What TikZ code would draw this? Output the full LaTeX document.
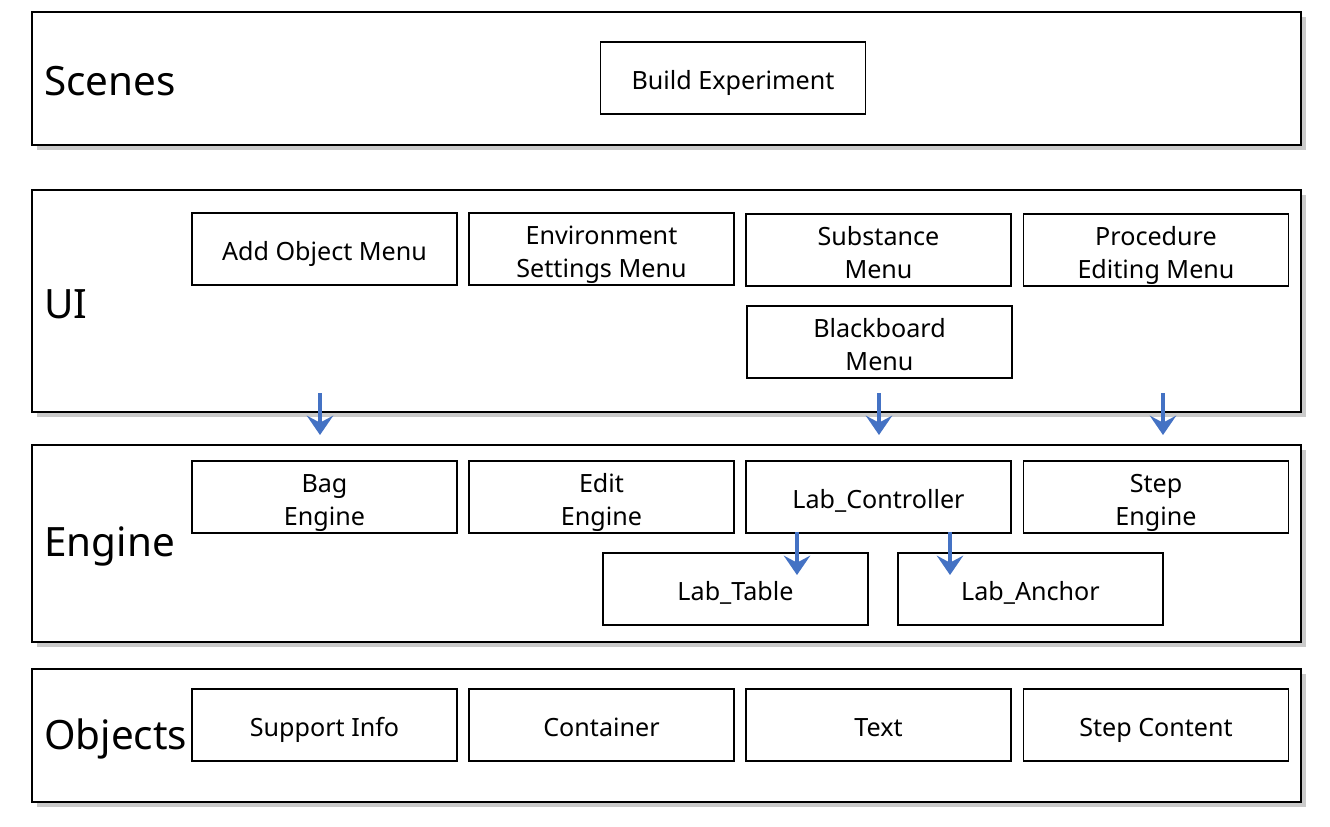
\documentclass[tikz,border=0pt]{standalone}
\usepackage{fontspec}
\setmainfont{Noto Sans}
\usetikzlibrary{arrows.meta,shadows}

\tikzset{
  layer/.style={draw,line width=1.2pt,fill=white,
    drop shadow={shadow xshift=3pt,shadow yshift=-3pt,opacity=0.35,fill=black!60}},
  unit/.style={draw,line width=0.9pt,fill=white,minimum width=151pt,minimum height=40.8pt,
    align=center,inner sep=0pt,font=\fontsize{14.3}{18.8}\selectfont},
  oneline/.style={text height=15.8pt,text depth=3pt},
  twoline/.style={text height=32.2pt,text depth=0pt},
  layername/.style={anchor=west,inner sep=0pt,font=\fontsize{23}{27}\selectfont},
  flow/.style={draw={rgb,255:red,68;green,114;blue,196},line width=2.3pt,
    -{Stealth[length=11pt,width=15pt,inset=4pt]}}
}

\begin{document}
\begin{tikzpicture}[x=0.02cm,y=-0.02cm]
\useasboundingbox (0,0) rectangle (1330,826);

% layers
\draw[layer] (32,12) rectangle (1301,145);
\draw[layer] (32,190) rectangle (1301,412);
\draw[layer] (32,445) rectangle (1301,642);
\draw[layer] (32,669) rectangle (1301,802);

\node[layername] (scenes) at (44,81) {Scenes};
\node[layername] (ui) at (44,304) {UI};
\node[layername] (engine) at (44,546) {Engine};
\node[layername] (objects) at (44,739) {Objects};

% scenes
\node[unit,oneline] (build) at (733,78) {Build Experiment};

% ui
\node[unit,oneline] (addobj) at (324.5,249) {Add Object Menu};
\node[unit,twoline] (envset) at (601.5,249) {Environment\\Settings Menu};
\node[unit,twoline] (subst) at (878.5,250) {Substance\\Menu};
\node[unit,twoline] (proc) at (1156,250) {Procedure\\Editing Menu};
\node[unit,twoline] (board) at (879.5,342) {Blackboard\\Menu};

% engine
\node[unit,twoline] (bag) at (324.5,497) {Bag\\Engine};
\node[unit,twoline] (edit) at (601.5,497) {Edit\\Engine};
\node[unit,oneline] (ctrl) at (878.5,497) {Lab\_Controller};
\node[unit,twoline] (stepeng) at (1156,497) {Step\\Engine};
\node[unit,oneline] (table) at (735.5,589) {Lab\_Table};
\node[unit,oneline] (anchor) at (1030.5,589) {Lab\_Anchor};

% objects
\node[unit,oneline] (support) at (324.5,725) {Support Info};
\node[unit,oneline] (container) at (601.5,725) {Container};
\node[unit,oneline] (text) at (878.5,725) {Text};
\node[unit,oneline] (stepcont) at (1156,725) {Step Content};

% arrows
\coordinate (a1) at (320,393);
\coordinate (b1) at (320,435);
\coordinate (a2) at (879,393);
\coordinate (b2) at (879,435);
\coordinate (a3) at (1163,393);
\coordinate (b3) at (1163,435);
\coordinate (a4) at (797,532);
\coordinate (b4) at (797,575);
\coordinate (a5) at (950,532);
\coordinate (b5) at (950,575);
\draw[flow] (a1)--(b1);
\draw[flow] (a2)--(b2);
\draw[flow] (a3)--(b3);
\draw[flow] (a4)--(b4);
\draw[flow] (a5)--(b5);
\end{tikzpicture}
\end{document}
